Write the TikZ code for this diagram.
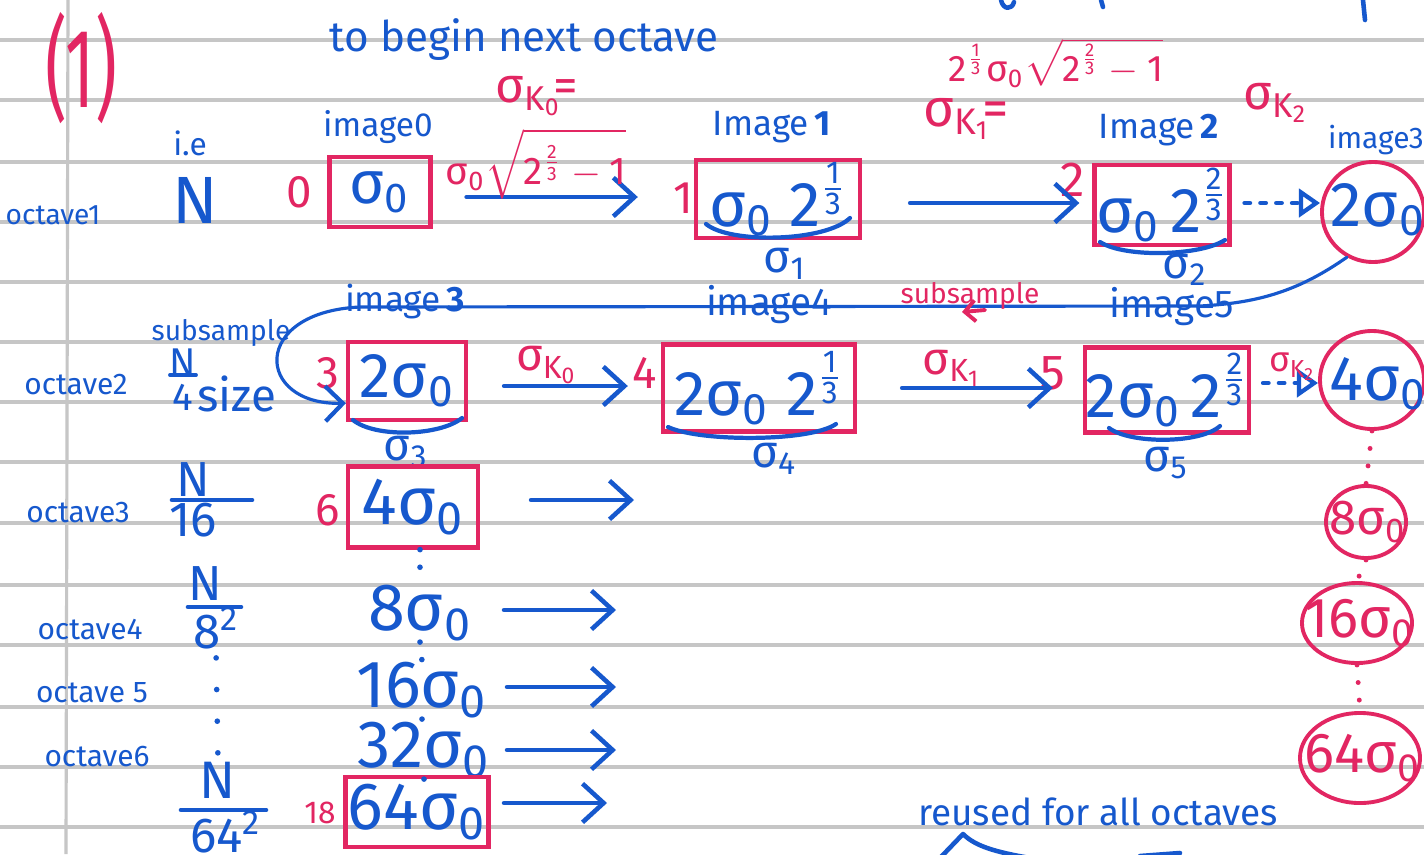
\documentclass[tikz,border=0pt]{standalone}
\usepackage{fontspec}
\setmainfont{Fira Sans}
\usepackage{amsmath}
\usetikzlibrary{arrows.meta,shapes.geometric,calc}
\definecolor{ink}{RGB}{22,88,205}
\definecolor{redink}{RGB}{226,38,98}
\definecolor{ruling}{RGB}{198,198,198}
\newcommand{\fs}[1]{\fontsize{#1}{#1}\selectfont}
% sigma with a subscript, and a stacked fraction, both in the text face
\newcommand{\sg}[1]{\text{σ}_{\text{#1}}}
\newcommand{\tf}[2]{\frac{\text{#1}}{\text{#2}}}
\newcommand{\tx}[1]{\text{#1}}
\tikzset{
  pen/.style={draw=ink, line width=1.3pt, line cap=round, line join=round},
  thinpen/.style={draw=ink, line width=0.9pt, line cap=round},
  redpen/.style={draw=redink, line width=1.1pt, line cap=round},
  bt/.style={text=ink, inner sep=0pt, font=\fs{#1}},
  rt/.style={text=redink, inner sep=0pt, font=\fs{#1}},
  imgbox/.style={draw=redink, line width=1.2pt, inner sep=0pt, text=ink, font=\fs{18}},
  sbox/.style={draw=redink, line width=1.1pt, ellipse, inner sep=0pt},
  goto/.style={pen, -{Straight Barb[length=6pt,width=11pt,line width=1.3pt]}},
  dotgo/.style={pen, dash pattern=on 1.5pt off 3pt, -{Triangle[open, length=6pt, width=8pt, line width=1.2pt]}},
  brace/.style={draw=ink, line width=1.2pt, line cap=round},
  bluedots/.style={draw=ink, line width=1.6pt, dash pattern=on 0pt off 5pt, line cap=round},
  reddots/.style={draw=redink, line width=1.4pt, dash pattern=on 0pt off 5pt, line cap=round},
}
\begin{document}
\begin{tikzpicture}[x=0.01cm, y=-0.01cm]
\useasboundingbox[fill=white] (0,0) rectangle (1424,854);
% ruled paper
\foreach \yy in {40,100,162,222,282,342,402,462,523,585,645,707,767,827}
  \draw[ruling, line width=0.9pt] (0,\yy) -- (1424,\yy);
\draw[ruling, line width=0.9pt] (68,0) -- (66,854);

% heading
\node[rt=32] (sec) at (81,68) {\scalebox{0.6}[1]{(1)}};
\node[bt=12] (title) at (524,40) {to begin next octave};
\draw[pen] (1001,0) .. controls (1003,10) and (1012,10) .. (1014,2);
\draw[pen] (1101,0) -- (1103,7);
\draw[pen] (1363,0) -- (1365,20);

% octave 1
\node[bt=8] (oct1) at (53,215) {octave1};
\node[bt=9] (ie) at (190,143) {i.e};
\node[bt=19] (N) at (195,200) {N};

\node[imgbox, minimum width=1.01cm, minimum height=0.70cm, font=\fs{17}] (b0) at (380,192) {$\sg{0}$};
\node[rt=13] (n0) at (299,192) {0};
\node[bt=9.5] (l0) at (378,127) {image0};

\node[imgbox, minimum width=1.64cm, minimum height=0.78cm] (b1) at (778,199) {$\sg{0}\;\tx{2}^{\tf{1}{3}}$};
\node[rt=13] (n1) at (683,198) {1};
\node[bt=10] (l1) at (772,127) {Image\,\textbf{1}};
\draw[brace] (706,224) .. controls (730,244) and (825,242) .. (850,218);
\node[bt=13] (s1) at (785,264) {$\sg{1}$};

\node[imgbox, minimum width=1.35cm, minimum height=0.80cm] (b2) at (1162,205) {$\sg{0}\,\tx{2}^{\tf{2}{3}}$};
\node[rt=14] (n2) at (1073,180) {2};
\node[bt=10] (l2) at (1159,130) {Image\,\textbf{2}};
\draw[brace] (1100,242) .. controls (1125,258) and (1200,256) .. (1225,240);
\node[bt=13] (s2) at (1185,270) {$\sg{2}$};

\node[sbox, minimum width=1.02cm, minimum height=1.0cm] (c3) at (1373,212) {};
\node[bt=18] (c3t) at (1378,210) {$\tx{2}\sg{0}$};
\node[bt=8.5] (l3a) at (1376,140) {image3};

\draw[goto, shorten <=0.34cm, shorten >=0.56cm] ([yshift=-0.05cm]b0.east) -- ([yshift=-0.05cm]b0.east -| b1.west);
\node[rt=14] (k0) at (537,96) {$\text{σ}_{\text{K}_{\text{0}}}\!\tx{=}$};
\node[rt=11] (k0v) at (536,164) {$\sg{0}\sqrt{\tx{2}^{\tf{2}{3}}-\tx{1}}$};

\draw[goto, shorten <=0.48cm, shorten >=0.13cm] ([yshift=-0.04cm]b1.east) -- ([yshift=-0.04cm]b1.east -| b2.west);
\node[rt=15] (k1) at (966,119) {$\text{σ}_{\text{K}_{\text{1}}}\!\tx{=}$};
\node[rt=10.5] (k1v) at (1056,63) {$\tx{2}^{\tf{1}{3}}\sg{0}\sqrt{\tx{2}^{\tf{2}{3}}-\tx{1}}$};

\draw[dotgo, shorten <=0.13cm] ([yshift=0.02cm]b2.east) -- ([yshift=0.02cm]b2.east -| c3.west);
\node[rt=14] (k2) at (1276,103) {$\text{σ}_{\text{K}_{\text{2}}}$};

% octave 2
\node[bt=8.5] (oct2) at (76,385) {octave2};
\node[bt=11] (n4a) at (183,362) {N};
\draw[pen, line width=1.1pt] (170,375) -- (196,375);
\node[bt=11] (n4b) at (183,397) {4};
\node[bt=13] (sz) at (237,394) {size};

\node[imgbox, minimum width=1.18cm, minimum height=0.78cm] (b3) at (407,381) {$\tx{2}\sg{0}$};
\node[rt=13] (n3) at (328,373) {3};
\node[bt=10] (l3) at (405,302) {image\,\textbf{3}};
\draw[brace] (353,420) .. controls (375,438) and (440,436) .. (462,418);
\node[bt=13] (s3) at (406,452) {$\sg{3}$};

\node[imgbox, minimum width=1.92cm, minimum height=0.87cm] (b4) at (759,388) {$\tx{2}\sg{0}\;\tx{2}^{\tf{1}{3}}$};
\node[rt=13] (n4) at (645,373) {4};
\node[bt=11] (l4) at (769,305) {image4};
\draw[brace] (668,427) .. controls (700,442) and (810,442) .. (836,424);
\node[bt=13] (s4) at (774,459) {$\sg{4}$};

\node[imgbox, minimum width=1.64cm, minimum height=0.85cm] (b5) at (1167,390) {$\tx{2}\sg{0}\,\tx{2}^{\tf{2}{3}}$};
\node[rt=14] (n5) at (1053,373) {5};
\node[bt=11] (l5) at (1172,307) {image5};
\draw[brace] (1109,428) .. controls (1130,444) and (1200,444) .. (1220,426);
\node[bt=13] (s5) at (1166,463) {$\sg{5}$};

\node[sbox, minimum width=1.04cm, minimum height=0.98cm] (c4) at (1372,380) {};
\node[bt=18] (c4t) at (1378,384) {$\tx{4}\sg{0}$};

\draw[goto, shorten <=0.36cm, shorten >=0.33cm] ([yshift=-0.05cm]b3.east) -- ([yshift=-0.05cm]b3.east -| b4.west);
\node[rt=13] (k0b) at (547,365) {$\text{σ}_{\text{K}_{\text{0}}}$};
\draw[goto, shorten <=0.45cm, shorten >=0.30cm] (b4.east) -- (b4.east -| b5.west);
\node[rt=13] (k1b) at (952,368) {$\text{σ}_{\text{K}_{\text{1}}}$};
\draw[dotgo, shorten <=0.12cm] ([yshift=0.07cm]b5.east) -- ([yshift=0.07cm]b5.east -| c4.west);
\node[rt=10] (k2b) at (1293,367) {$\text{σ}_{\text{K}_{\text{2}}}$};

% subsampling path back to the start of octave 2
\draw[thinpen, -{Straight Barb[length=5pt,width=10pt,line width=1.2pt]}]
  (c3.240) .. controls (1300,290) and (1260,303) .. (1200,306)
  -- (360,307) .. controls (250,312) and (255,405) .. (b3.200);
\node[rt=8] (subr) at (970,296) {subsample};
\draw[redpen, -{Straight Barb[length=3pt,width=6pt]}] (985,310) -- (962,312);
\node[bt=8] (subb) at (221,333) {subsample};

% octaves 3 to 6
\node[bt=8.5] (oct3) at (78,513) {octave3};
\node[bt=14] (n16a) at (193,480) {N};
\draw[pen] (172,500) -- (252,500);
\node[bt=14] (n16b) at (193,520) {16};
\node[rt=13] (n6) at (328,510) {6};
\node[imgbox, minimum width=1.30cm, minimum height=0.81cm, font=\fs{19}] (b6) at (413,507) {$\tx{4}\sg{0}$};
\coordinate (e6) at (634,500);
\draw[goto, shorten <=1.18cm] (b6.center |- e6) -- (e6);

\node[bt=8.5] (oct4) at (90,630) {octave4};
\node[bt=14] (n8a) at (205,584) {N};
\draw[pen] (188,607) -- (241,607);
\node[bt=14] (n8b) at (216,628) {8\textsuperscript{2}};
\node[bt=19] (s8) at (420,613) {$\tx{8}\sg{0}$};
\coordinate (e8) at (616,610);
\draw[goto, shorten <=0.84cm] (s8.center |- e8) -- (e8);

\node[bt=8.5] (oct5) at (92,693) {octave 5};
\node[bt=19] (s16) at (422,690) {$\tx{16}\sg{0}$};
\coordinate (e16) at (616,687);
\draw[goto, shorten <=0.85cm] (s16.center |- e16) -- (e16);

\node[bt=8.5] (oct6) at (97,757) {octave6};
\node[bt=19] (s32) at (424,750) {$\tx{32}\sg{0}$};
\coordinate (e32) at (616,750);
\draw[goto, shorten <=0.83cm] (s32.center |- e32) -- (e32);

\node[bt=15] (n64a) at (218,780) {N};
\draw[pen] (181,810) -- (266,810);
\node[bt=14] (n64b) at (226,832) {64\textsuperscript{2}};
\node[rt=9] (n18) at (320,813) {18};
\node[imgbox, minimum width=1.43cm, minimum height=0.70cm, font=\fs{19}] (b18) at (417,812) {$\tx{64}\sg{0}$};
\coordinate (e64) at (607,803);
\draw[goto, shorten <=0.87cm] (b18.center |- e64) -- (e64);

% continuation dots
\draw[bluedots] (s8.north |- b6.south) -- (s8.north);
\draw[bluedots] (s8.south) -- (s16.north);
\draw[bluedots] (s16.south) -- (s32.north);
\draw[bluedots] (s32.south) -- (s32.south |- b18.north);
\draw[bluedots, dash pattern=on 0pt off 9pt, shorten <=0.08cm, shorten >=0.06cm] (n8b.south) -- (n64a.north);

% right-hand column of octave starts
\node[sbox, minimum width=0.80cm, minimum height=0.72cm] (c5) at (1366,522) {};
\node[rt=14] (c5t) at (1368,522) {$\tx{8}\sg{0}$};
\node[sbox, minimum width=1.10cm, minimum height=0.80cm] (c6) at (1357,623) {};
\node[rt=16] (c6t) at (1360,623) {$\tx{16}\sg{0}$};
\node[sbox, minimum width=1.20cm, minimum height=0.90cm] (c7) at (1360,758) {};
\node[rt=16] (c7t) at (1363,758) {$\tx{64}\sg{0}$};
\draw[reddots] (c4.south) -- (c5.north);
\draw[reddots] (c5.south) -- (c6.north);
\draw[reddots] (c6.south) -- (c7.north);

% footnote
\node[bt=10.5] (reuse) at (1098,812) {reused for all octaves};
\draw[pen] (940,858) -- (963,834) .. controls (975,846) and (995,852) .. (1030,858);
\draw[pen] (1140,856) -- (1180,853);
\end{tikzpicture}
\end{document}
